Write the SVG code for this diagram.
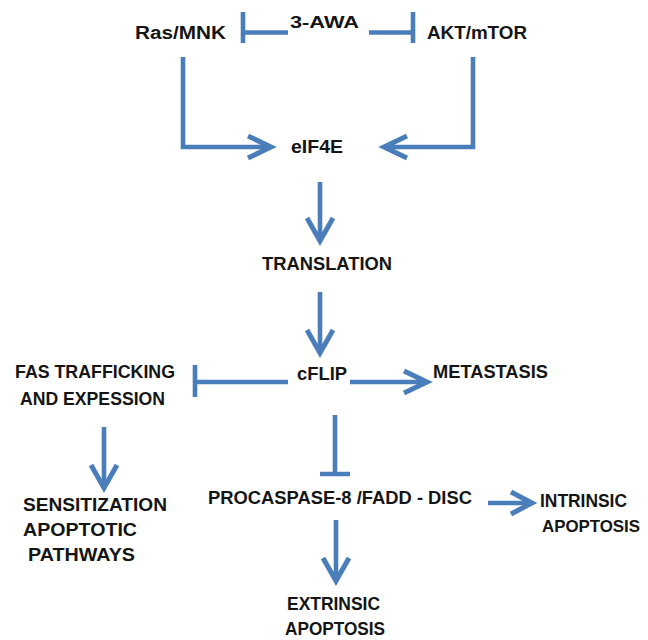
<svg xmlns="http://www.w3.org/2000/svg" width="648" height="640" viewBox="0 0 648 640">
<style>
  text { font-family: "Liberation Sans", Arial, sans-serif; font-weight: bold; font-size: 19px; fill: #151515; }
  .ln { fill: none; stroke: #4a7ebb; stroke-width: 4.6; stroke-linejoin: miter; }
  .hd { fill: none; stroke: #4a7ebb; stroke-width: 5; stroke-linejoin: miter; stroke-linecap: butt; }
</style>
<rect width="648" height="640" fill="#ffffff"/>
<g id="connectors">
  <path class="ln" d="M288,32.5 H243 M243,12 V43"/>
  <path class="ln" d="M369,32.5 H413 M413,12 V43"/>
  <path class="ln" d="M183,57 V147 H268"/>
  <path class="hd" d="M248,136 L271,147 L248,158"/>
  <path class="ln" d="M473,57 V147 H387"/>
  <path class="hd" d="M407,136 L384,147 L407,158"/>
  <path class="ln" d="M320,182 V238"/>
  <path class="hd" d="M307,218 L320,241 L333,218"/>
  <path class="ln" d="M320,292 V350"/>
  <path class="hd" d="M307,330 L320,353 L333,330"/>
  <path class="ln" d="M288,382 H195 M195,365 V397"/>
  <path class="ln" d="M350,382 H424"/>
  <path class="hd" d="M404,371 L427,382 L404,393"/>
  <path class="ln" d="M335,415 V474 M320,474 H350"/>
  <path class="ln" d="M104,427 V484"/>
  <path class="hd" d="M91,465 L104,488 L117,465"/>
  <path class="ln" d="M488,503 H529"/>
  <path class="hd" d="M511,492 L532,503 L511,514"/>
  <path class="ln" d="M336,520 V578"/>
  <path class="hd" d="M323,558 L336,581 L349,558"/>
</g>
<g id="n-rasmnk"><text x="135" y="39" textLength="91" lengthAdjust="spacingAndGlyphs" style="font-size:18px">Ras/MNK</text></g>
<g id="n-3awa"><text x="290" y="28" textLength="69" lengthAdjust="spacingAndGlyphs" style="font-size:17px">3-AWA</text></g>
<g id="n-aktmtor"><text x="427" y="39" textLength="100" lengthAdjust="spacingAndGlyphs" style="font-size:18px">AKT/mTOR</text></g>
<g id="n-eif4e"><text x="291" y="153" textLength="52" lengthAdjust="spacingAndGlyphs">eIF4E</text></g>
<g id="n-translation"><text x="262" y="270" textLength="130" lengthAdjust="spacingAndGlyphs">TRANSLATION</text></g>
<g id="n-fas">
  <text x="15" y="378" textLength="160" lengthAdjust="spacingAndGlyphs">FAS TRAFFICKING</text>
  <text x="20" y="405" textLength="145" lengthAdjust="spacingAndGlyphs">AND EXPESSION</text>
</g>
<g id="n-cflip"><text x="297" y="380" textLength="50" lengthAdjust="spacingAndGlyphs">cFLIP</text></g>
<g id="n-metastasis"><text x="433" y="378" textLength="115" lengthAdjust="spacingAndGlyphs">METASTASIS</text></g>
<g id="n-sensitization">
  <text x="23" y="511" textLength="144" lengthAdjust="spacingAndGlyphs">SENSITIZATION</text>
  <text x="23" y="536" textLength="114" lengthAdjust="spacingAndGlyphs">APOPTOTIC</text>
  <text x="28" y="561" textLength="107" lengthAdjust="spacingAndGlyphs">PATHWAYS</text>
</g>
<g id="n-procaspase"><text x="208" y="504" textLength="264" lengthAdjust="spacingAndGlyphs">PROCASPASE-8 /FADD - DISC</text></g>
<g id="n-intrinsic">
  <text x="540" y="507" textLength="87" lengthAdjust="spacingAndGlyphs">INTRINSIC</text>
  <text x="542" y="532" textLength="98" lengthAdjust="spacingAndGlyphs" style="font-size:17px">APOPTOSIS</text>
</g>
<g id="n-extrinsic">
  <text x="287" y="610" textLength="93" lengthAdjust="spacingAndGlyphs">EXTRINSIC</text>
  <text x="285" y="635" textLength="100" lengthAdjust="spacingAndGlyphs">APOPTOSIS</text>
</g>
</svg>
